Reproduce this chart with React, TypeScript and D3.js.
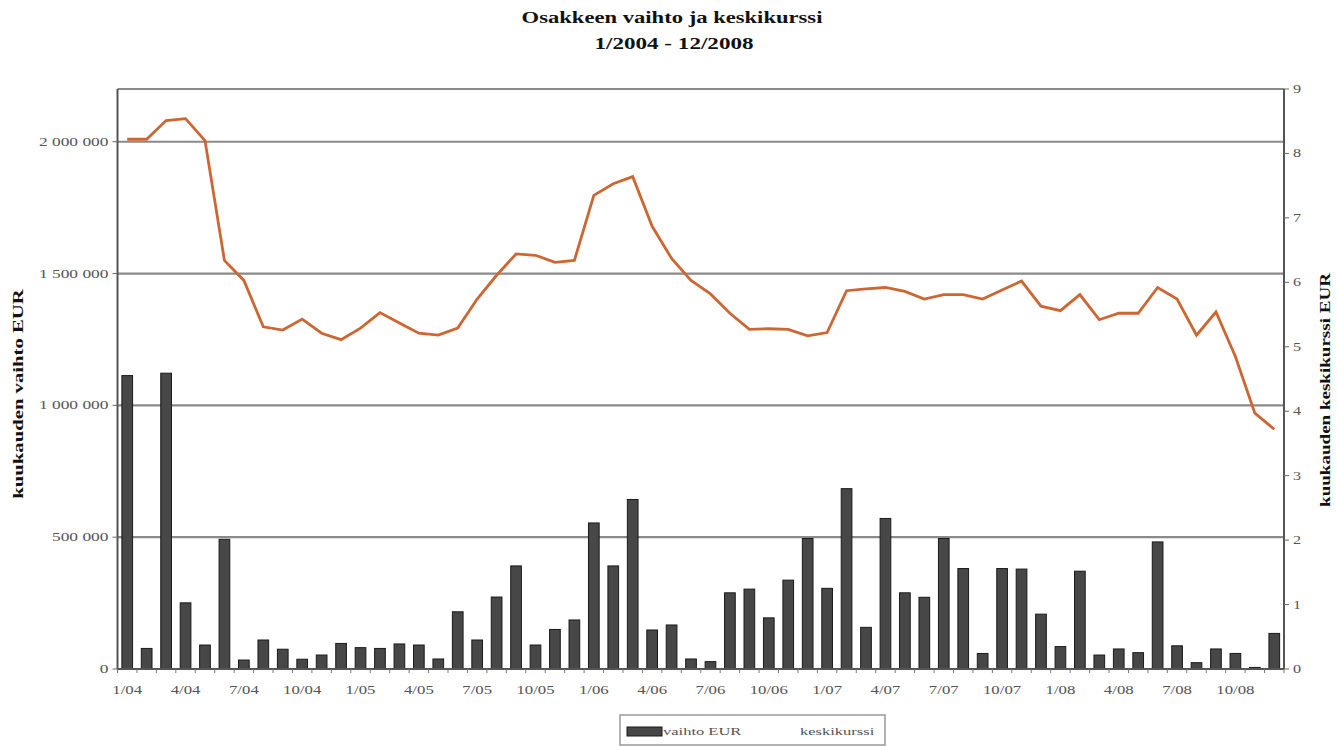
import React from "react";
import * as d3 from "d3";

const categories = [
  "1/04","2/04","3/04","4/04","5/04","6/04","7/04","8/04","9/04","10/04","11/04","12/04",
  "1/05","2/05","3/05","4/05","5/05","6/05","7/05","8/05","9/05","10/05","11/05","12/05",
  "1/06","2/06","3/06","4/06","5/06","6/06","7/06","8/06","9/06","10/06","11/06","12/06",
  "1/07","2/07","3/07","4/07","5/07","6/07","7/07","8/07","9/07","10/07","11/07","12/07",
  "1/08","2/08","3/08","4/08","5/08","6/08","7/08","8/08","9/08","10/08","11/08","12/08",
];

const vaihto = [
  1113000, 78000, 1122000, 251000, 91000, 492000, 34000, 110000, 75000, 37000, 53000, 97000,
  81000, 78000, 95000, 91000, 38000, 217000, 110000, 273000, 391000, 91000, 150000, 186000,
  554000, 391000, 643000, 148000, 167000, 38000, 28000, 289000, 303000, 194000, 337000, 495000,
  306000, 684000, 158000, 571000, 289000, 272000, 495000, 381000, 59000, 381000, 379000, 208000,
  85000, 371000, 53000, 76000, 62000, 482000, 88000, 24000, 76000, 59000, 6000, 135000,
];

const keskikurssi = [
  8.22, 8.22, 8.51, 8.54, 8.2, 6.34, 6.03, 5.31, 5.26, 5.43, 5.21, 5.11,
  5.29, 5.53, 5.37, 5.21, 5.18, 5.29, 5.74, 6.11, 6.44, 6.42, 6.31, 6.34,
  7.35, 7.53, 7.64, 6.87, 6.37, 6.03, 5.82, 5.52, 5.27, 5.28, 5.27, 5.17,
  5.22, 5.87, 5.9, 5.92, 5.86, 5.74, 5.81, 5.81, 5.74, 5.88, 6.02, 5.63,
  5.56, 5.81, 5.42, 5.52, 5.52, 5.92, 5.74, 5.18, 5.54, 4.85, 3.97, 3.72,
];

const leftTicks = [0, 500000, 1000000, 1500000, 2000000];
const leftTickLabels = ["0", "500 000", "1 000 000", "1 500 000", "2 000 000"];
const rightTicks = [0, 1, 2, 3, 4, 5, 6, 7, 8, 9];
const xTickLabels = ["1/04","4/04","7/04","10/04","1/05","4/05","7/05","10/05","1/06","4/06","7/06","10/06","1/07","4/07","7/07","10/07","1/08","4/08","7/08","10/08"];

const W = 1338;
const H = 746;
const L = 117.5;
const R = 1284;
const T = 89;
const B = 669;
const FONT = "'Liberation Serif', 'DejaVu Serif', serif";
const LINE_COLOR = "#cc6633";

type STProps = {
  x: number;
  y: number;
  anchor?: "start" | "middle" | "end";
  size: number;
  weight?: string;
  fill?: string;
  rotate?: number;
  sx?: number;
  children: React.ReactNode;
};

function SText({ x, y, anchor = "start", size, weight = "normal", fill = "#555", rotate = 0, sx = 1.4, children }: STProps) {
  return (
    <text
      transform={`translate(${x},${y}) rotate(${rotate}) scale(${sx},1)`}
      textAnchor={anchor}
      fontSize={size}
      fontWeight={weight}
      fill={fill}
    >
      {children}
    </text>
  );
}

export default function App() {
  const x = d3
    .scaleBand<string>()
    .domain(categories)
    .range([L, R])
    .paddingInner(0.45)
    .paddingOuter(0.225);
  const step = x.step();
  const yL = d3.scaleLinear().domain([0, 2200000]).range([B, T]);
  const yR = d3.scaleLinear().domain([0, 9]).range([B, T]);

  const line = d3
    .line<number>()
    .x((_, i) => (x(categories[i]) as number) + x.bandwidth() / 2)
    .y((d) => yR(d));

  return (
    <svg width={W} height={H} style={{ display: "block", position: "absolute", left: 0, top: 0, background: "#fff" }} fontFamily={FONT}>
      <rect x={0} y={0} width={W} height={H} fill="#fff" />
      {/* title */}
      <SText x={672} y={23} anchor="middle" size={17} weight="bold" fill="#111" sx={1.33}>
        Osakkeen vaihto ja keskikurssi
      </SText>
      <SText x={674} y={49} anchor="middle" size={17} weight="bold" fill="#111" sx={1.36}>
        1/2004 - 12/2008
      </SText>

      {/* gridlines */}
      {[...leftTicks.slice(1), 2200000].map((t) => (
        <line key={"g" + t} x1={L} x2={R} y1={yL(t)} y2={yL(t)} stroke="#8a8a8a" strokeWidth={2.2} />
      ))}

      {/* bars */}
      {vaihto.map((v, i) => (
        <rect
          key={"b" + i}
          x={x(categories[i])}
          y={yL(v)}
          width={x.bandwidth()}
          height={B - yL(v)}
          fill="#474747"
          stroke="#1a1a1a"
          strokeWidth={1}
        />
      ))}

      {/* line */}
      <path d={line(keskikurssi) || ""} fill="none" stroke={LINE_COLOR} strokeWidth={2.8} strokeLinejoin="miter" />

      {/* axes */}
      <line x1={L} x2={L} y1={T} y2={B} stroke="#555" strokeWidth={2} />
      <line x1={R} x2={R} y1={T} y2={B} stroke="#555" strokeWidth={2} />
      <line x1={L} x2={R} y1={B} y2={B} stroke="#555" strokeWidth={2} />

      {/* x ticks at category boundaries */}
      {d3.range(categories.length + 1).map((i) => (
        <line key={"xt" + i} x1={L + i * step} x2={L + i * step} y1={B} y2={B + 4} stroke="#777" strokeWidth={1} />
      ))}
      {xTickLabels.map((lab) => (
        <SText key={"xl" + lab} x={(x(lab) as number) + x.bandwidth() / 2} y={B + 25} anchor="middle" size={12} sx={1.4}>
          {lab}
        </SText>
      ))}

      {/* left ticks */}
      {leftTicks.map((t, i) => (
        <g key={"lt" + t}>
          <line x1={L - 5} x2={L} y1={yL(t)} y2={yL(t)} stroke="#666" strokeWidth={1} />
          <SText x={L - 9} y={yL(t) + 4} anchor="end" size={12} sx={1.45}>
            {leftTickLabels[i]}
          </SText>
        </g>
      ))}

      {/* right ticks */}
      {rightTicks.map((t) => (
        <g key={"rt" + t}>
          <line x1={R} x2={R + 5} y1={yR(t)} y2={yR(t)} stroke="#666" strokeWidth={1} />
          <SText x={R + 9} y={yR(t) + 4} anchor="start" size={12} sx={1.35}>
            {t}
          </SText>
        </g>
      ))}

      {/* axis titles */}
      <SText x={23} y={394} anchor="middle" size={14} weight="bold" fill="#111" rotate={-90} sx={1.48}>
        kuukauden vaihto EUR
      </SText>
      <SText x={1330} y={390} anchor="middle" size={14} weight="bold" fill="#111" rotate={-90} sx={1.36}>
        kuukauden keskikurssi EUR
      </SText>

      {/* legend */}
      <rect x={620} y={715} width={265} height={30} fill="#fff" stroke="#999" strokeWidth={1.5} />
      <rect x={627} y={727} width={35} height={9} fill="#474747" stroke="#1a1a1a" strokeWidth={1} />
      <SText x={663} y={735} size={11} sx={1.5}>vaihto EUR</SText>
      <SText x={800} y={735} size={11} sx={1.5}>keskikurssi</SText>
    </svg>
  );
}
